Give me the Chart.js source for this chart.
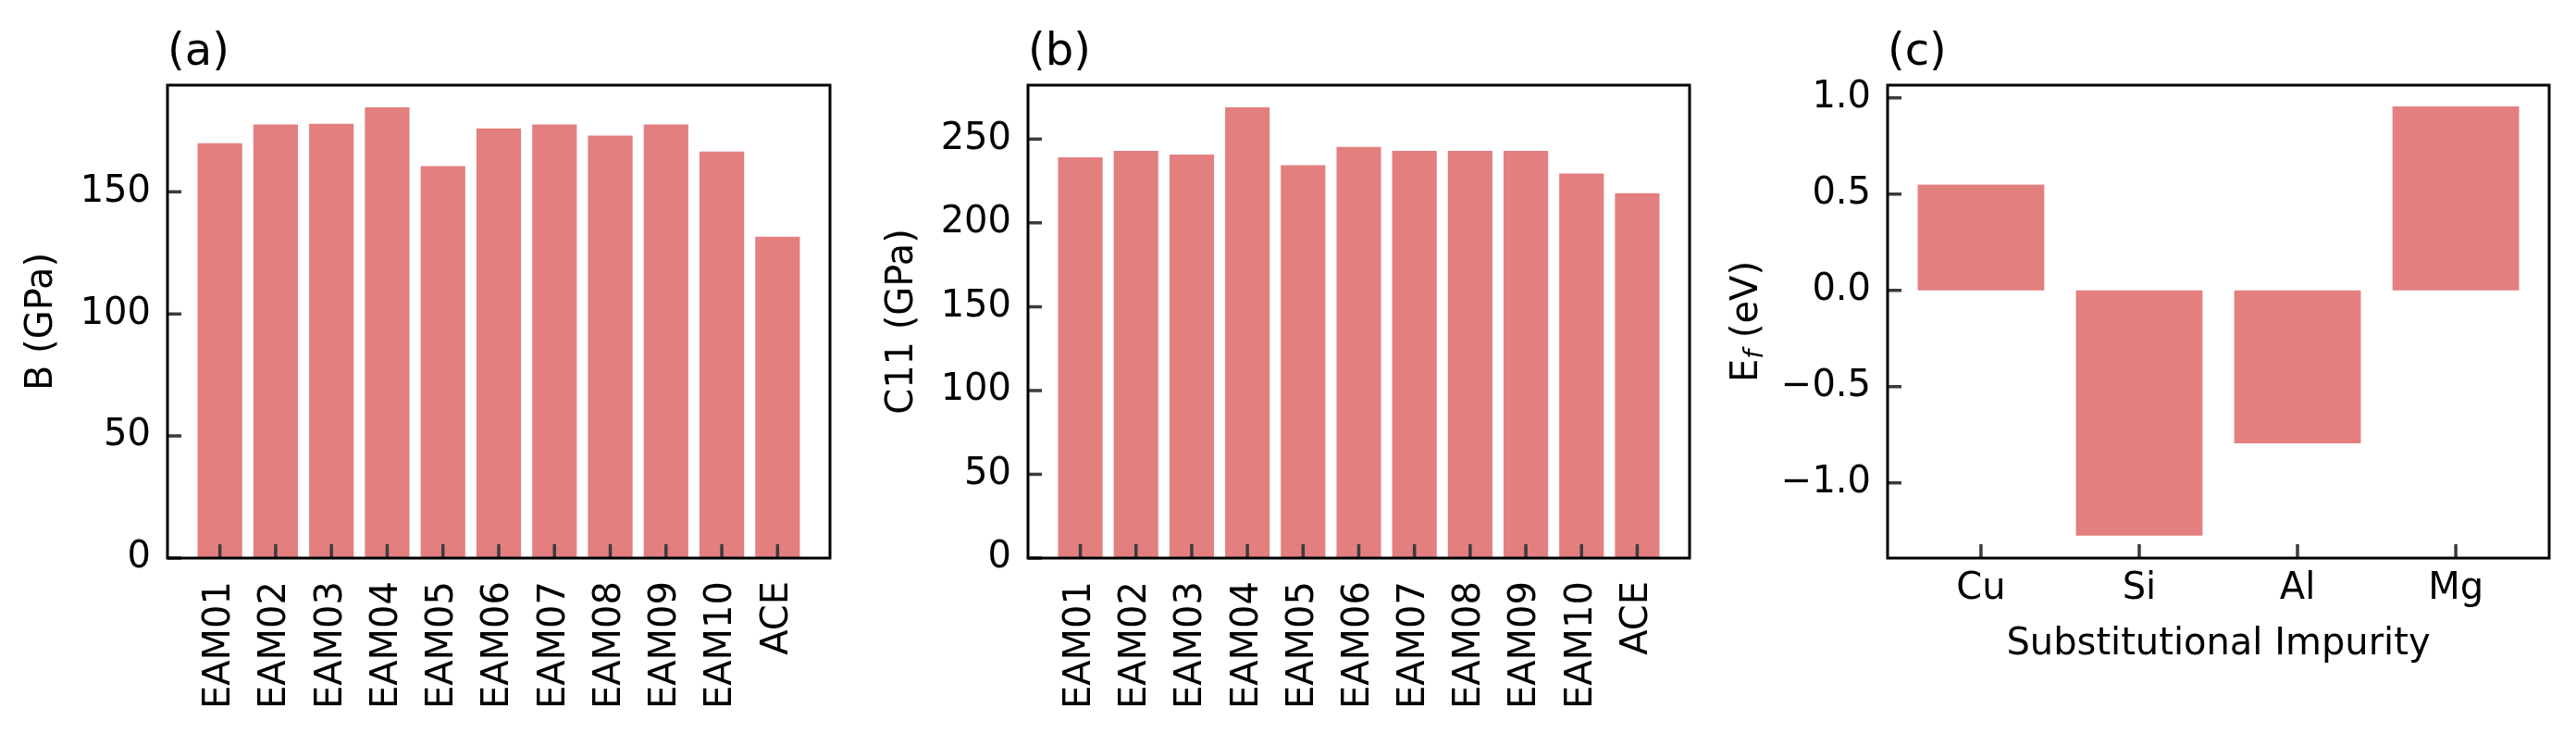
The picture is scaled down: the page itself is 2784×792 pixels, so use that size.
<!DOCTYPE html>
<html>
<head>
<meta charset="utf-8">
<title>Elastic constants and impurity formation energy</title>
<script src="https://cdn.jsdelivr.net/npm/chart.js@4.4.1/dist/chart.umd.min.js"></script>
<style>
  html, body { margin: 0; padding: 0; background: #fff; }
  #wrap { position: relative; width: 2784px; height: 792px; }
  .panel { position: absolute; top: 0; width: 928px; height: 792px; }
</style>
</head>
<body>
<div id="wrap">
  <div class="panel" style="left:0px"><canvas id="chartA"></canvas></div>
  <div class="panel" style="left:928px"><canvas id="chartB"></canvas></div>
  <div class="panel" style="left:1856px"><canvas id="chartC"></canvas></div>
</div>
<script>
// values
const potentials = ["EAM01", "EAM02", "EAM03", "EAM04", "EAM05", "EAM06", "EAM07", "EAM08", "EAM09", "EAM10", "ACE"];
const bulkModulus = [169.9, 177.6, 177.9, 184.6, 160.5, 176.0, 177.6, 173.0, 177.6, 166.5, 131.6];
const c11 = [239.1, 243.0, 240.8, 269.0, 234.4, 245.3, 243.0, 243.0, 243.0, 229.4, 217.7];
const impurities = ["Cu", "Si", "Al", "Mg"];
const formationEnergy = [0.549, -1.274, -0.794, 0.956];

const bTicks = [0, 50, 100, 150];
const c11Ticks = [0, 50, 100, 150, 200, 250];
const efTicks = [-1.0, -0.5, 0.0, 0.5, 1.0];

const BAR_COLOR = "#e37f7f";
const TICK_COLOR = "#3c3c3c";
const FONT = "DejaVu Sans";
const TICK_LEN = 15;

Chart.defaults.font.family = FONT;
Chart.defaults.color = "#000";

// inward ticks, axes box and panel letter (matplotlib style)
const framePlugin = {
  id: "frame",
  afterDraw(chart, args, opts) {
    const { ctx, chartArea: a } = chart;
    const xs = chart.scales.x, ys = chart.scales.y;
    ctx.save();
    ctx.strokeStyle = TICK_COLOR;
    ctx.lineWidth = 3.5;
    ctx.beginPath();
    xs.ticks.forEach(t => {
      const px = xs.getPixelForValue(t.value);
      ctx.moveTo(px, a.bottom);
      ctx.lineTo(px, a.bottom - TICK_LEN);
    });
    ys.ticks.forEach(t => {
      const py = ys.getPixelForValue(t.value);
      ctx.moveTo(a.left, py);
      ctx.lineTo(a.left + TICK_LEN, py);
    });
    ctx.stroke();

    ctx.strokeStyle = "#000";
    ctx.lineWidth = 3;
    ctx.strokeRect(a.left, a.top, a.right - a.left, a.bottom - a.top);

    if (opts.letter) {
      ctx.fillStyle = "#000";
      ctx.font = `48px '${FONT}'`;
      ctx.textAlign = "left";
      ctx.textBaseline = "alphabetic";
      ctx.fillText(opts.letter, a.left, a.top - 22);
    }
    // E_f label needs a subscript, so it is set by hand
    if (opts.subLabel) {
      const s = opts.subLabel;
      const cy = (a.top + a.bottom) / 2;
      ctx.fillStyle = "#000";
      ctx.translate(s.x, cy);
      ctx.rotate(-Math.PI / 2);
      ctx.textBaseline = "alphabetic";
      ctx.textAlign = "left";
      const big = `40px '${FONT}'`, small = `italic 28px '${FONT}'`;
      ctx.font = big; const w1 = ctx.measureText(s.main).width;
      ctx.font = small; const w2 = ctx.measureText(s.sub).width;
      ctx.font = big; const w3 = ctx.measureText(s.rest).width;
      let x = -(w1 + w2 + w3) / 2;
      const base = 14;
      ctx.font = big; ctx.fillText(s.main, x, base); x += w1;
      ctx.font = small; ctx.fillText(s.sub, x, base + 6); x += w2;
      ctx.font = big; ctx.fillText(s.rest, x, base);
    }
    ctx.restore();
  }
};

const fmtMinus = (v) => (v < 0 ? "\u2212" : "") + Math.abs(v).toFixed(1);

function makePanel(id, o) {
  const data = o.values.map((v, i) => ({ x: i, y: v }));
  const n = o.labels.length;
  const margin = 0.05 * (n - 1 + 0.8);
  return new Chart(document.getElementById(id), {
    type: "bar",
    data: {
      datasets: [{
        data,
        backgroundColor: BAR_COLOR,
        borderWidth: 0,
        barPercentage: 0.8,
        categoryPercentage: 1.0
      }]
    },
    options: {
      responsive: true,
      maintainAspectRatio: false,
      animation: false,
      devicePixelRatio: 1,
      layout: { padding: { top: 92, right: o.padRight, left: 0, bottom: 0 } },
      plugins: {
        legend: { display: false },
        tooltip: { enabled: false },
        frame: { letter: o.letter, subLabel: o.subLabel || null }
      },
      scales: {
        x: {
          type: "linear",
          offset: false,
          min: -0.4 - margin,
          max: n - 1 + 0.4 + margin,
          grid: { display: false, offset: false, drawOnChartArea: false, drawTicks: false },
          border: { display: false },
          afterBuildTicks: (ax) => { ax.ticks = o.labels.map((_, i) => ({ value: i })); },
          afterFit: (ax) => { ax.height = 189; ax.paddingLeft = 0; ax.paddingRight = 0; },
          ticks: {
            autoSkip: false,
            maxRotation: o.rot,
            minRotation: o.rot,
            padding: o.rot ? 25 : 10,
            font: { size: 40 },
            color: "#000",
            callback: (v) => o.labels[v]
          },
          title: o.xTitle
            ? { display: true, text: o.xTitle, font: { size: 40 }, color: "#000", padding: { top: 0, bottom: 71 } }
            : { display: false }
        },
        y: {
          min: o.yMin,
          max: o.yMax,
          grid: { display: false, drawOnChartArea: false, drawTicks: false },
          border: { display: false },
          afterBuildTicks: (ax) => { ax.ticks = o.yTicks.map((v) => ({ value: v })); },
          afterFit: (ax) => { ax.width = o.yWidth; ax.paddingTop = 0; ax.paddingBottom = 0; },
          ticks: { padding: 18, font: { size: 40 }, color: "#000", callback: o.fmt },
          title: o.yTitle
            ? { display: true, text: o.yTitle, font: { size: 40 }, color: "#000", padding: { top: o.yTitlePad, bottom: 0 } }
            : { display: false }
        }
      }
    },
    plugins: [framePlugin]
  });
}

makePanel("chartA", {
  letter: "(a)", labels: potentials, values: bulkModulus, rot: 90,
  yMin: 0, yMax: 193.7, yTicks: bTicks, fmt: (v) => String(v),
  yWidth: 181, padRight: 31, yTitle: "B (GPa)", yTitlePad: 22
});

makePanel("chartB", {
  letter: "(b)", labels: potentials, values: c11, rot: 90,
  yMin: 0, yMax: 282.2, yTicks: c11Ticks, fmt: (v) => String(v),
  yWidth: 183, padRight: 30, yTitle: "C11 (GPa)", yTitlePad: 24
});

makePanel("chartC", {
  letter: "(c)", labels: impurities, values: formationEnergy, rot: 0,
  yMin: -1.39, yMax: 1.066, yTicks: efTicks, fmt: fmtMinus,
  yWidth: 184, padRight: 29, xTitle: "Substitutional Impurity",
  subLabel: { x: 29, main: "E", sub: "f", rest: " (eV)" }
});
</script>
</body>
</html>
